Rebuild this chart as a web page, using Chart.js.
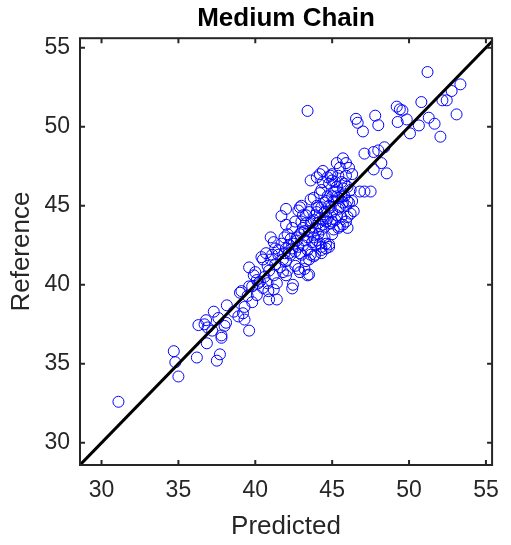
<!DOCTYPE html>
<html>
<head>
<meta charset="utf-8">
<script src="https://cdn.jsdelivr.net/npm/chart.js@4/dist/chart.umd.min.js"></script>
<style>
    body { margin: 0; background: #fff; }
    #chart { display: block; }
</style>
</head>
<body>
<canvas id="chart" width="511" height="545"></canvas>
<script>
// Medium Chain - predicted vs reference
const predicted = [
    31.1, 34.7, 34.8, 35.0,
    36.2, 36.3, 36.7, 36.9, 36.85, 37.2, 37.3, 37.5, 37.7, 37.8, 37.8, 38.0, 38.1, 38.15, 37.6, 36.8,
    38.6, 38.9, 39.0, 39.1, 39.2, 39.3, 39.6, 39.3, 39.8, 40.1, 39.6, 39.6, 39.9, 40.0,
    40.1, 40.4, 40.5, 40.9, 40.85, 40.3, 40.6, 40.8, 40.5, 40.9, 41.0, 41.0, 41.2, 41.4, 41.4, 41.3, 41.2,
    41.5, 41.7, 41.9, 42.0, 41.6, 41.8, 42.0, 42.2, 42.1, 42.3, 42.4, 42.45, 42.5, 42.4, 41.9, 42.1, 42.6, 42.8, 42.2, 41.7,
    42.8, 42.9, 42.9, 43.0, 43.1, 43.2, 43.3, 43.4, 43.5, 43.0, 43.4, 43.3, 43.2, 43.5, 43.4, 43.0, 43.4, 43.5, 43.6, 43.1, 42.7, 42.8, 43.6, 43.7, 43.5,
    43.8, 44.0, 44.2, 43.9, 44.0, 44.3, 44.1, 44.4, 44.5, 43.9, 44.2, 44.4, 44.3, 44.5, 44.6, 44.6, 43.9, 44.1, 44.3, 44.6, 44.4, 44.2, 43.8, 44.3, 44.8, 44.7, 44.8, 44.4, 44.2, 44.8, 44.9, 44.9,
    45.0, 45.1, 45.2, 45.3, 45.4, 45.0, 45.1, 45.5, 45.3, 45.0, 45.3, 45.5, 45.7, 45.9, 45.6, 45.8, 45.9, 45.6, 45.4, 45.7, 46.0, 46.0, 46.0, 45.9, 46.3, 46.2, 45.7, 45.1, 45.3, 45.0,
    46.8, 47.1, 47.5, 46.55, 46.66, 47.0, 47.1, 47.7, 48.0, 48.4, 48.2, 48.55, 47.7, 47.8, 48.0, 46.4, 46.1,
    49.2, 49.57, 49.4, 49.26, 49.85, 50.06, 50.64, 50.8, 51.28, 51.66, 52.04, 51.2, 52.17, 52.45, 52.77, 53.34, 53.09,
    42.0, 42.3, 42.6, 42.9, 43.1, 43.3, 43.6, 43.8, 43.9, 44.0, 44.1, 44.3, 44.5, 44.7, 44.9, 45.0, 45.2, 45.4, 45.5, 45.6,
    45.7, 45.8, 45.2, 44.6, 44.2, 43.7, 43.2, 42.7, 42.4, 41.8, 41.5, 41.1, 40.8, 40.2, 39.8, 39.5, 40.7, 41.3, 42.0, 42.6,
    43.0, 43.6, 44.0, 44.7, 45.4, 45.0, 44.8, 44.3, 43.8, 42.9, 42.0, 41.2, 46.1, 46.2, 46.3, 45.9, 46.0
];
const reference = [
    32.6, 35.8, 35.1, 34.2,
    35.4, 37.45, 37.5, 37.3, 36.3, 37.1, 38.3, 35.2, 35.6, 36.65, 36.8, 37.4, 37.6, 38.7, 37.9, 37.76,
    38.3, 38.0, 39.5, 39.6, 38.2, 37.8, 37.1, 38.6, 38.9, 39.35, 39.9, 41.1, 40.6, 40.8,
    40.3, 41.75, 41.6, 39.07, 39.6, 40.2, 40.5, 41.2, 39.8, 40.9, 41.6, 43.0, 42.7, 39.07, 40.1, 41.3, 40.6,
    42.2, 44.35, 42.0, 44.8, 41.1, 40.8, 41.5, 42.5, 43.2, 41.9, 39.77, 40.0, 42.6, 43.6, 43.0, 40.9, 41.2, 41.0, 42.0, 42.6,
    44.7, 44.9, 42.0, 43.3, 42.5, 41.0, 41.5, 40.6, 40.65, 41.9, 43.0, 43.9, 42.8, 43.4, 42.2, 44.0, 51.0, 44.6, 45.4, 43.6, 43.0, 42.4, 41.9, 42.7, 41.6,
    45.5, 45.0, 44.2, 43.6, 42.8, 42.2, 43.2, 43.8, 44.6, 44.4, 45.8, 46.5, 46.0, 43.0, 42.6, 42.3, 41.9, 43.9, 44.9, 45.3, 44.1, 42.6, 43.0, 42.4, 42.55, 44.2, 45.0, 47.2, 47.0, 46.4, 46.9, 43.9,
    44.6, 45.3, 44.1, 45.6, 44.8, 43.2, 43.5, 43.7, 46.2, 47.0, 47.7, 47.4, 48.0, 47.7, 46.5, 45.6, 45.0, 44.3, 43.6, 45.2, 46.2, 44.3, 45.3, 46.9, 47.0, 44.5, 43.8, 45.9, 44.4, 46.6,
    45.9, 45.9, 45.9, 50.5, 50.25, 49.7, 48.3, 48.4, 48.5, 48.7, 47.7, 47.05, 47.3, 50.7, 50.1, 44.66, 45.2,
    51.27, 51.03, 51.1, 50.3, 50.46, 49.58, 50.08, 51.56, 50.57, 50.19, 49.37, 53.46, 51.67, 51.67, 52.26, 52.68, 50.78,
    42.3, 42.9, 42.1, 43.2, 44.4, 44.4, 43.9, 44.1, 42.5, 44.6, 44.9, 43.5, 45.2, 45.6, 44.9, 45.6, 45.9, 45.5, 44.9, 45.6,
    46.1, 46.4, 46.5, 44.0, 43.7, 43.3, 43.4, 42.8, 42.3, 41.6, 41.9, 41.9, 40.1, 40.1, 39.9, 39.3, 42.0, 42.3, 43.8, 44.0,
    45.0, 46.6, 46.8, 46.8, 46.9, 44.0, 42.4, 42.0, 41.8, 40.8, 40.6, 39.7, 47.4, 46.0, 45.3, 44.0, 43.6
];
const diagonal = [28.6, 55.6];
const tickValues = [30, 35, 40, 45, 50, 55];
const xRange = [28.6, 55.4];
const yRange = [28.6, 55.6];

const FONT = "'Liberation Sans', Arial, Helvetica, sans-serif";
const AXIS_COLOR = '#262626';

// caixa completa com ticks para dentro (estilo MATLAB)
const boxPlugin = {
    id: 'box',
    afterDatasetsDraw(chart) {
        const { ctx, chartArea: a, scales: { x, y } } = chart;
        const len = 5;
        ctx.save();
        ctx.strokeStyle = AXIS_COLOR;
        ctx.lineWidth = 2;
        ctx.strokeRect(a.left, a.top, a.right - a.left, a.bottom - a.top);
        ctx.beginPath();
        x.ticks.forEach(t => {
            const px = x.getPixelForValue(t.value);
            ctx.moveTo(px, a.bottom); ctx.lineTo(px, a.bottom - len);
            ctx.moveTo(px, a.top); ctx.lineTo(px, a.top + len);
        });
        y.ticks.forEach(t => {
            const py = y.getPixelForValue(t.value);
            ctx.moveTo(a.left, py); ctx.lineTo(a.left + len, py);
            ctx.moveTo(a.right, py); ctx.lineTo(a.right - len, py);
        });
        ctx.stroke();
        ctx.restore();
    }
};

const setTicks = scale => { scale.ticks = tickValues.map(v => ({ value: v })); };

new Chart(document.getElementById('chart'), {
    type: 'scatter',
    data: {
        datasets: [
            {
                type: 'line',
                data: diagonal.map(v => ({ x: v, y: v })),
                borderColor: '#000',
                borderWidth: 3,
                pointRadius: 0,
                order: 0
            },
            {
                data: predicted.map((p, i) => ({ x: p, y: reference[i] })),
                pointStyle: 'circle',
                pointRadius: 5.5,
                borderColor: '#0000ff',
                backgroundColor: 'rgba(0,0,0,0)',
                borderWidth: 1,
                order: 1
            }
        ]
    },
    options: {
        responsive: false,
        animation: false,
        layout: { padding: { left: 0, right: 13, top: 0, bottom: 0 } },
        plugins: {
            legend: { display: false },
            tooltip: { enabled: false },
            title: {
                display: true,
                fullSize: false,
                text: 'Medium Chain',
                color: '#000',
                font: { family: FONT, size: 26, weight: 'bold' },
                padding: { top: 3, bottom: 4 }
            }
        },
        scales: {
            x: {
                type: 'linear',
                min: xRange[0],
                max: xRange[1],
                afterBuildTicks: setTicks,
                afterFit: s => { s.height = 80; },
                grid: { display: false, drawTicks: false },
                border: { display: false },
                ticks: { color: AXIS_COLOR, padding: 12, font: { family: FONT, size: 23 } },
                title: {
                    display: true,
                    text: 'Predicted',
                    color: AXIS_COLOR,
                    font: { family: FONT, size: 26 },
                    padding: { top: 0, bottom: 3 }
                }
            },
            y: {
                type: 'linear',
                min: yRange[0],
                max: yRange[1],
                afterBuildTicks: setTicks,
                afterFit: s => { s.width = 80; },
                grid: { display: false, drawTicks: false },
                border: { display: false },
                ticks: { color: AXIS_COLOR, padding: 10, font: { family: FONT, size: 23 } },
                title: {
                    display: true,
                    text: 'Reference',
                    color: AXIS_COLOR,
                    font: { family: FONT, size: 26 },
                    padding: { top: 6, bottom: 0 }
                }
            }
        }
    },
    plugins: [boxPlugin]
});
</script>
</body>
</html>
